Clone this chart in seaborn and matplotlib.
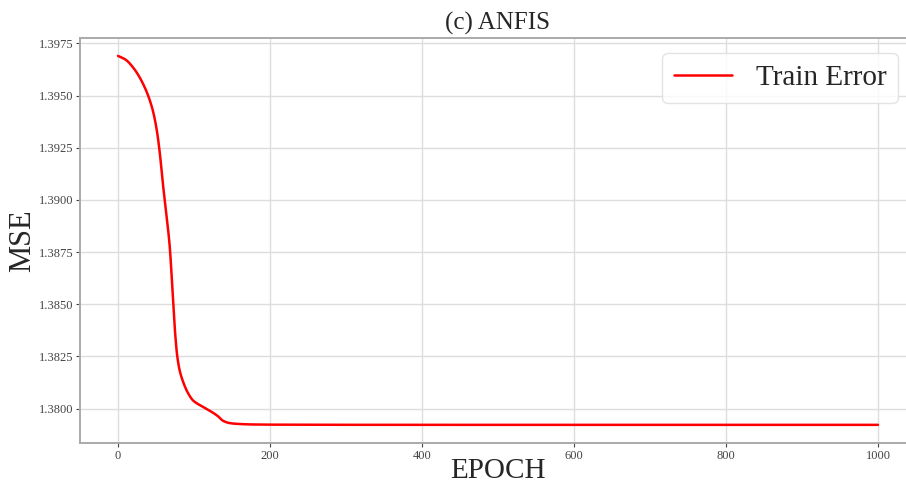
import numpy as np
import matplotlib
matplotlib.use('Agg')
import matplotlib.pyplot as plt
import seaborn as sns
import pandas as pd

epochs = [0, 10, 20, 33, 45, 51, 55, 59, 63, 68, 72, 75, 78, 81, 85, 92, 99, 112, 125,
          132, 138, 145, 152, 175, 200, 400, 700, 1000]
mse = [1.39690, 1.39672, 1.39634, 1.39556, 1.39440, 1.39335, 1.39225, 1.39080, 1.38950,
       1.38780, 1.38550, 1.38370, 1.38250, 1.38185, 1.38135, 1.38075, 1.38038, 1.38008,
       1.37980, 1.37962, 1.37942, 1.37932, 1.37928, 1.37924, 1.37923, 1.37922, 1.37922,
       1.37922]

# densify with a monotone cubic so the line looks smooth
def pchip(x, y, xn):
    x = np.asarray(x, float); y = np.asarray(y, float)
    h = np.diff(x); d = np.diff(y) / h
    m = np.zeros_like(y)
    for k in range(1, len(x) - 1):
        if d[k - 1] * d[k] > 0:
            w1 = 2 * h[k] + h[k - 1]; w2 = h[k] + 2 * h[k - 1]
            m[k] = (w1 + w2) / (w1 / d[k - 1] + w2 / d[k])
    m[0] = d[0]; m[-1] = d[-1]
    idx = np.clip(np.searchsorted(x, xn) - 1, 0, len(x) - 2)
    t = (xn - x[idx]) / h[idx]
    h00 = 2*t**3 - 3*t**2 + 1; h10 = t**3 - 2*t**2 + t
    h01 = -2*t**3 + 3*t**2; h11 = t**3 - t**2
    return h00*y[idx] + h10*h[idx]*m[idx] + h01*y[idx+1] + h11*h[idx]*m[idx+1]

xs = np.linspace(0, 1000, 2001)
df = pd.DataFrame({'EPOCH': xs, 'MSE': pchip(epochs, mse, xs)})

sns.set_theme(style='whitegrid')
plt.rcParams['font.family'] = ['Liberation Serif', 'DejaVu Serif']

fig = plt.figure(figsize=(9.06, 4.88), dpi=100)
ax = fig.add_axes([0.0883, 0.0922, 0.9227, 0.830])

sns.lineplot(data=df, x='EPOCH', y='MSE', color='red', linewidth=1.8, ax=ax, label='Train Error')

ax.set_xlim(-50, 1050)
ax.set_ylim(1.37835, 1.39776)
ax.set_xticks([0, 200, 400, 600, 800, 1000])
ax.set_yticks(np.arange(1.3800, 1.39751, 0.0025))
ax.yaxis.set_major_formatter(matplotlib.ticker.FormatStrFormatter('%.4f'))
ax.tick_params(labelsize=9, colors='#444444', length=3, width=0.8, pad=2, left=True, bottom=True)
ax.grid(True, color='#dddddd', linewidth=1.0)
for s in ax.spines.values():
    s.set_color('#aaaaaa')
    s.set_linewidth(1.4)
ax.spines['right'].set_visible(False)

ax.set_title('(c) ANFIS', fontsize=18, pad=6)
ax.set_xlabel('EPOCH', fontsize=21, labelpad=-3)
ax.set_ylabel('MSE', fontsize=22, labelpad=1)
ax.legend(loc='upper right', bbox_to_anchor=(0.9785, 0.963), borderaxespad=0, fontsize=21,
          frameon=True, framealpha=0.8, edgecolor='#dddddd', handlelength=2.0)

fig.savefig('out.png', dpi=100)
